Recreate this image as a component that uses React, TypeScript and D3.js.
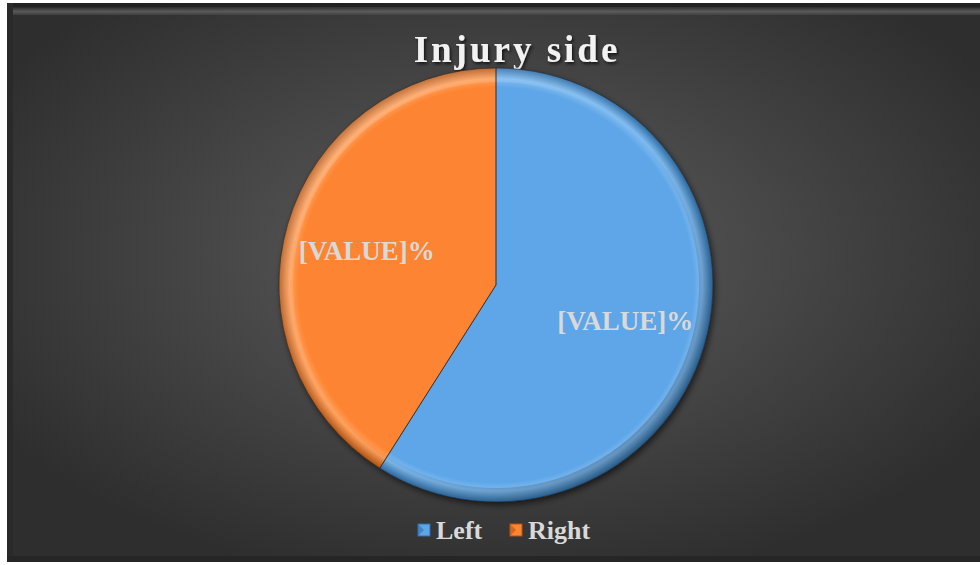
import * as d3 from 'd3';

const categories = ['Left', 'Right'];
const values = [59, 41];
const labels = ['[VALUE]%', '[VALUE]%'];
const title = 'Injury side';

const W = 980;
const H = 565;
const CX = 496;
const CY = 285;
const R = 217;

const COLORS: Record<string, { base: string; light: string; dark: string }> = {
  Left: { base: '#5ea6e8', light: '#7fbbf0', dark: '#2f6fa8' },
  Right: { base: '#fd8431', light: '#ffa05c', dark: '#b45514' },
};

export default function App() {
  const pie = d3
    .pie<number>()
    .sort(null)
    .value((d) => d);
  const arcs = pie(values);
  const arc = d3.arc<d3.PieArcDatum<number>>().innerRadius(0).outerRadius(R);
  const ring = d3.arc<d3.PieArcDatum<number>>().innerRadius(R - 14).outerRadius(R);
  const labelArc = d3.arc<d3.PieArcDatum<number>>().innerRadius(R * 0.62).outerRadius(R * 0.62);

  return (
    <svg
      width={W}
      height={H}
      style={{ position: 'absolute', left: 0, top: 0, display: 'block', background: '#fff' }}
      fontFamily="'Liberation Serif', 'Times New Roman', serif"
    >
      <defs>
        <radialGradient id="bg" cx="0.5" cy="0.45" r="0.6">
          <stop offset="0" stopColor="#5e5e5e" />
          <stop offset="1" stopColor="#2e2e2e" />
        </radialGradient>
        <linearGradient id="topbevel" x1="0" y1="0" x2="0" y2="1">
          <stop offset="0" stopColor="#3a3a3a" />
          <stop offset="0.5" stopColor="#6a6a6a" />
          <stop offset="1" stopColor="#454545" />
        </linearGradient>
        {categories.map((c) => (
          <radialGradient key={c} id={`g-${c}`} cx={0} cy={0} r={R} gradientUnits="userSpaceOnUse">
            <stop offset="0" stopColor={COLORS[c].base} />
            <stop offset="0.91" stopColor={COLORS[c].base} />
            <stop offset="0.95" stopColor={COLORS[c].light} />
            <stop offset="1" stopColor={COLORS[c].dark} />
          </radialGradient>
        ))}
        <linearGradient id="light" x1={-R} y1={-R} x2={R} y2={R} gradientUnits="userSpaceOnUse">
          <stop offset="0" stopColor="#fff" stopOpacity={0.25} />
          <stop offset="0.5" stopColor="#fff" stopOpacity={0} />
          <stop offset="0.5" stopColor="#000" stopOpacity={0} />
          <stop offset="1" stopColor="#000" stopOpacity={0.3} />
        </linearGradient>
        <filter id="shadow" x="-20%" y="-20%" width="140%" height="140%">
          <feDropShadow dx="2" dy="3" stdDeviation="3" floodColor="#000" floodOpacity="0.6" />
        </filter>
        <filter id="tshadow" x="-10%" y="-20%" width="120%" height="150%">
          <feDropShadow dx="1.5" dy="2" stdDeviation="1.5" floodColor="#000" floodOpacity="0.7" />
        </filter>
      </defs>

      {/* chart background */}
      <rect x={7} y={3} width={W - 7} height={559} fill="url(#bg)" />
      <rect x={7} y={3} width={W - 7} height={4} fill="#222" />
      <rect x={12} y={8} width={W - 12} height={7} fill="url(#topbevel)" opacity={0.7} />
      <rect x={7} y={3} width={6} height={559} fill="#2a2a2a" />
      <rect x={7} y={556} width={W - 7} height={6} fill="#262626" />

      {/* title */}
      <text
        x={517}
        y={62}
        textAnchor="middle"
        fontSize={37}
        fontWeight="bold"
        letterSpacing={3}
        fill="#f2f2f2"
        filter="url(#tshadow)"
      >
        {title}
      </text>

      {/* pie */}
      <g transform={`translate(${CX},${CY})`}>
        <g filter="url(#shadow)">
          {arcs.map((a, i) => (
            <path key={categories[i]} d={arc(a) ?? ''} fill={`url(#g-${categories[i]})`} />
          ))}
        </g>
        {arcs.map((a, i) => (
          <path key={'r' + categories[i]} d={ring(a) ?? ''} fill="url(#light)" />
        ))}
        {arcs.map((a, i) => (
          <path key={'e' + categories[i]} d={arc(a) ?? ''} fill="none" stroke="#1e1e1e" strokeWidth={1} opacity={0.5} />
        ))}
        {arcs.map((a, i) => {
          const [x, y] = labelArc.centroid(a);
          return (
            <text
              key={'l' + categories[i]}
              x={x}
              y={y + (i === 1 ? 4 : -2)}
              textAnchor="middle"
              dominantBaseline="central"
              fontSize={27}
              fontWeight="bold"
              fill="#d9d9d9"
            >
              {labels[i]}
            </text>
          );
        })}
      </g>

      {/* legend */}
      <g transform="translate(0,530)">
        {categories.map((c, i) => {
          const x0 = i === 0 ? 418 : 510;
          return (
            <g key={c} transform={`translate(${x0},0)`}>
              <rect x={0} y={-6} width={12} height={12} fill={COLORS[c].base} stroke={COLORS[c].dark} strokeWidth={1} />
              <path d="M0,-6 L6,0 L0,6 Z" fill={COLORS[c].dark} opacity={0.6} />
              <text x={18} y={0} dominantBaseline="central" fontSize={26} fontWeight="bold" fill="#d9d9d9">
                {c}
              </text>
            </g>
          );
        })}
      </g>
    </svg>
  );
}
